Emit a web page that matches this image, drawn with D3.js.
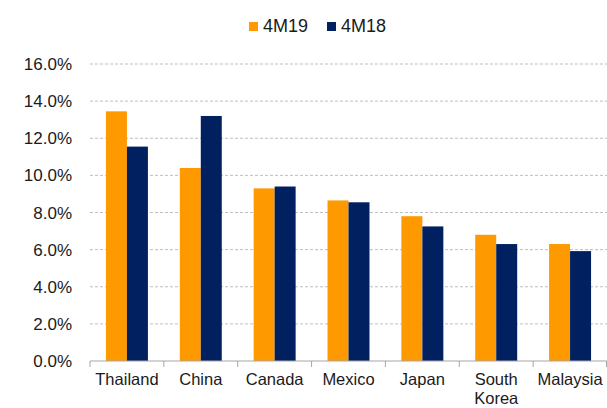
<!DOCTYPE html>
<html>
<head>
<meta charset="utf-8">
<script src="https://cdn.jsdelivr.net/npm/d3@7"></script>
<style>
  body { margin: 0; background: #fff; }
  text { font-family: "Liberation Sans", Arial, sans-serif; fill: #1a1a1a; }
</style>
</head>
<body>
<div id="chart"></div>
<script>
const categories = ["Thailand", "China", "Canada", "Mexico", "Japan", "South Korea", "Malaysia"];
const seriesNames = ["4M19", "4M18"];
const values4M19 = [13.45, 10.4, 9.3, 8.65, 7.8, 6.8, 6.3];
const values4M18 = [11.55, 13.2, 9.4, 8.55, 7.25, 6.3, 5.92];
const yTicks = [0, 2, 4, 6, 8, 10, 12, 14, 16];
const colors = ["#FF9900", "#002060"];

const margin = { top: 64, right: 0, bottom: 47, left: 90 },
      width = 607 - margin.left - margin.right,
      height = 408 - margin.top - margin.bottom;

const svg = d3.select("#chart").append("svg")
  .attr("width", 607)
  .attr("height", 408);

const g = svg.append("g")
  .attr("transform", `translate(${margin.left},${margin.top})`);

const data = categories.map((c, i) => ({ cat: c, vals: [values4M19[i], values4M18[i]] }));

const x = d3.scaleBand().domain(categories).range([0, width]).paddingInner(0).paddingOuter(0);
const x1 = d3.scaleBand().domain(seriesNames).range([0, x.bandwidth()]).paddingInner(0).paddingOuter(0.76);
const y = d3.scaleLinear().domain([0, 16]).range([height, 0]);

// gridlines
g.selectAll(".grid")
  .data(yTicks.filter(t => t > 0))
  .enter().append("line")
  .attr("x1", 0).attr("x2", width)
  .attr("y1", d => y(d)).attr("y2", d => y(d))
  .attr("stroke", "#bfbfbf")
  .attr("stroke-dasharray", "3,2");

// y labels
g.selectAll(".ylab")
  .data(yTicks)
  .enter().append("text")
  .attr("x", -18)
  .attr("y", d => y(d) + 6)
  .attr("text-anchor", "end")
  .style("font-size", "17px")
  .text(d => d.toFixed(1) + "%");

// bars
const groups = g.selectAll(".grp")
  .data(data)
  .enter().append("g")
  .attr("transform", d => `translate(${x(d.cat)},0)`);

groups.selectAll("rect")
  .data(d => d.vals.map((v, i) => ({ s: seriesNames[i], v: v, i: i })))
  .enter().append("rect")
  .attr("x", d => x1(d.s))
  .attr("y", d => y(d.v))
  .attr("width", x1.bandwidth())
  .attr("height", d => height - y(d.v))
  .attr("fill", d => colors[d.i]);

// x axis
const axis = g.append("g").attr("transform", `translate(0,${height})`);
axis.append("line")
  .attr("x1", 0).attr("x2", width)
  .attr("stroke", "#a6a6a6");
axis.selectAll(".tick")
  .data(d3.range(categories.length + 1))
  .enter().append("line")
  .attr("x1", i => Math.min(i * x.bandwidth(), width - 0.5))
  .attr("x2", i => Math.min(i * x.bandwidth(), width - 0.5))
  .attr("y1", 0).attr("y2", 6)
  .attr("stroke", "#a6a6a6");

const xl = axis.selectAll(".xlab")
  .data(categories)
  .enter().append("text")
  .attr("text-anchor", "middle")
  .attr("transform", d => `translate(${x(d) + x.bandwidth() / 2},24)`)
  .style("font-size", "16.5px");
xl.each(function(d) {
  const words = d.split(" ");
  const t = d3.select(this);
  words.forEach((w, i) => {
    t.append("tspan").attr("x", 0).attr("dy", i === 0 ? 0 : 19).text(w);
  });
});

// legend
const legend = svg.append("g");
const legX = [249, 327];
seriesNames.forEach((s, i) => {
  legend.append("rect")
    .attr("x", legX[i]).attr("y", 22)
    .attr("width", 9).attr("height", 9)
    .attr("fill", colors[i]);
  legend.append("text")
    .attr("x", legX[i] + 14).attr("y", 32)
    .style("font-size", "18px")
    .text(s);
});
</script>
</body>
</html>
